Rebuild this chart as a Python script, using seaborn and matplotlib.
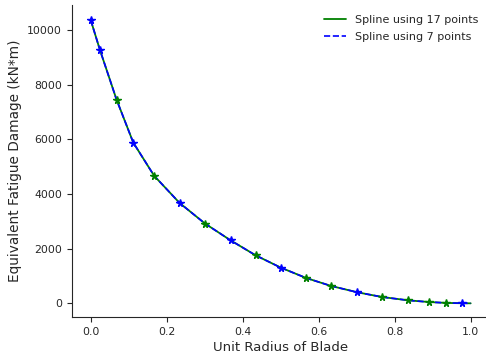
import matplotlib
matplotlib.use("Agg")
import matplotlib.pyplot as plt
import seaborn as sns
import pandas as pd

radius = [0.0, 0.024, 0.068, 0.112, 0.167, 0.234, 0.301, 0.368, 0.434, 0.5,
          0.567, 0.633, 0.702, 0.767, 0.835, 0.889, 0.934, 0.978, 1.0]
damage = [10366, 9283, 7453, 5880, 4665, 3670, 2916, 2305, 1756, 1306,
          926, 633, 402, 230, 110, 48, 15, 2, 0]

# which of the stations carry the marker of each series
green_idx = [2, 4, 6, 8, 10, 11, 13, 14, 15, 16]
blue_idx = [0, 1, 3, 5, 7, 9, 12, 17]

labels = ["Spline using 17 points", "Spline using 7 points"]

df = pd.DataFrame({"r": radius, "d": damage})
dg = df.iloc[green_idx]
db = df.iloc[blue_idx]

sns.set_style("white")
plt.rcParams["font.family"] = ["DejaVu Sans"]

fig = plt.figure(figsize=(4.86, 3.57), dpi=100)
ax = fig.add_axes([71.7 / 486, 40 / 357, (489.7 - 71.7) / 486, (317 - 5) / 357])

sns.lineplot(data=df, x="r", y="d", ax=ax, color="green", linewidth=1.3,
             label=labels[0], estimator=None, sort=False)
sns.lineplot(data=df, x="r", y="d", ax=ax, color="blue", linewidth=1.2,
             linestyle="--", label=labels[1], estimator=None, sort=False)
ax.plot(dg["r"], dg["d"], linestyle="none", marker="*", color="green", markersize=5.5)
ax.plot(db["r"], db["d"], linestyle="none", marker="*", color="blue", markersize=5.5)

ax.set_xlim(-0.05, 1.05)
ax.set_ylim(-501, 10914)
ax.set_xticks([0.0, 0.2, 0.4, 0.6, 0.8, 1.0])
ax.set_yticks([0, 2000, 4000, 6000, 8000, 10000])
ax.tick_params(axis="both", labelsize=7.8, length=3.5, width=0.8, left=True, bottom=True,
               colors="#262626")
ax.set_xlabel("Unit Radius of Blade", fontsize=9.5, color="#262626", labelpad=3)
ax.set_ylabel("Equivalent Fatigue Damage (kN*m)", fontsize=9.8, color="#262626")
for s in ["left", "bottom"]:
    ax.spines[s].set_color("#262626")
    ax.spines[s].set_linewidth(0.8)
sns.despine(ax=ax)
ax.legend(frameon=False, fontsize=8, loc="upper right", bbox_to_anchor=(0.996, 1.0),
          labelspacing=0.6)

fig.savefig("out.png", dpi=100)
